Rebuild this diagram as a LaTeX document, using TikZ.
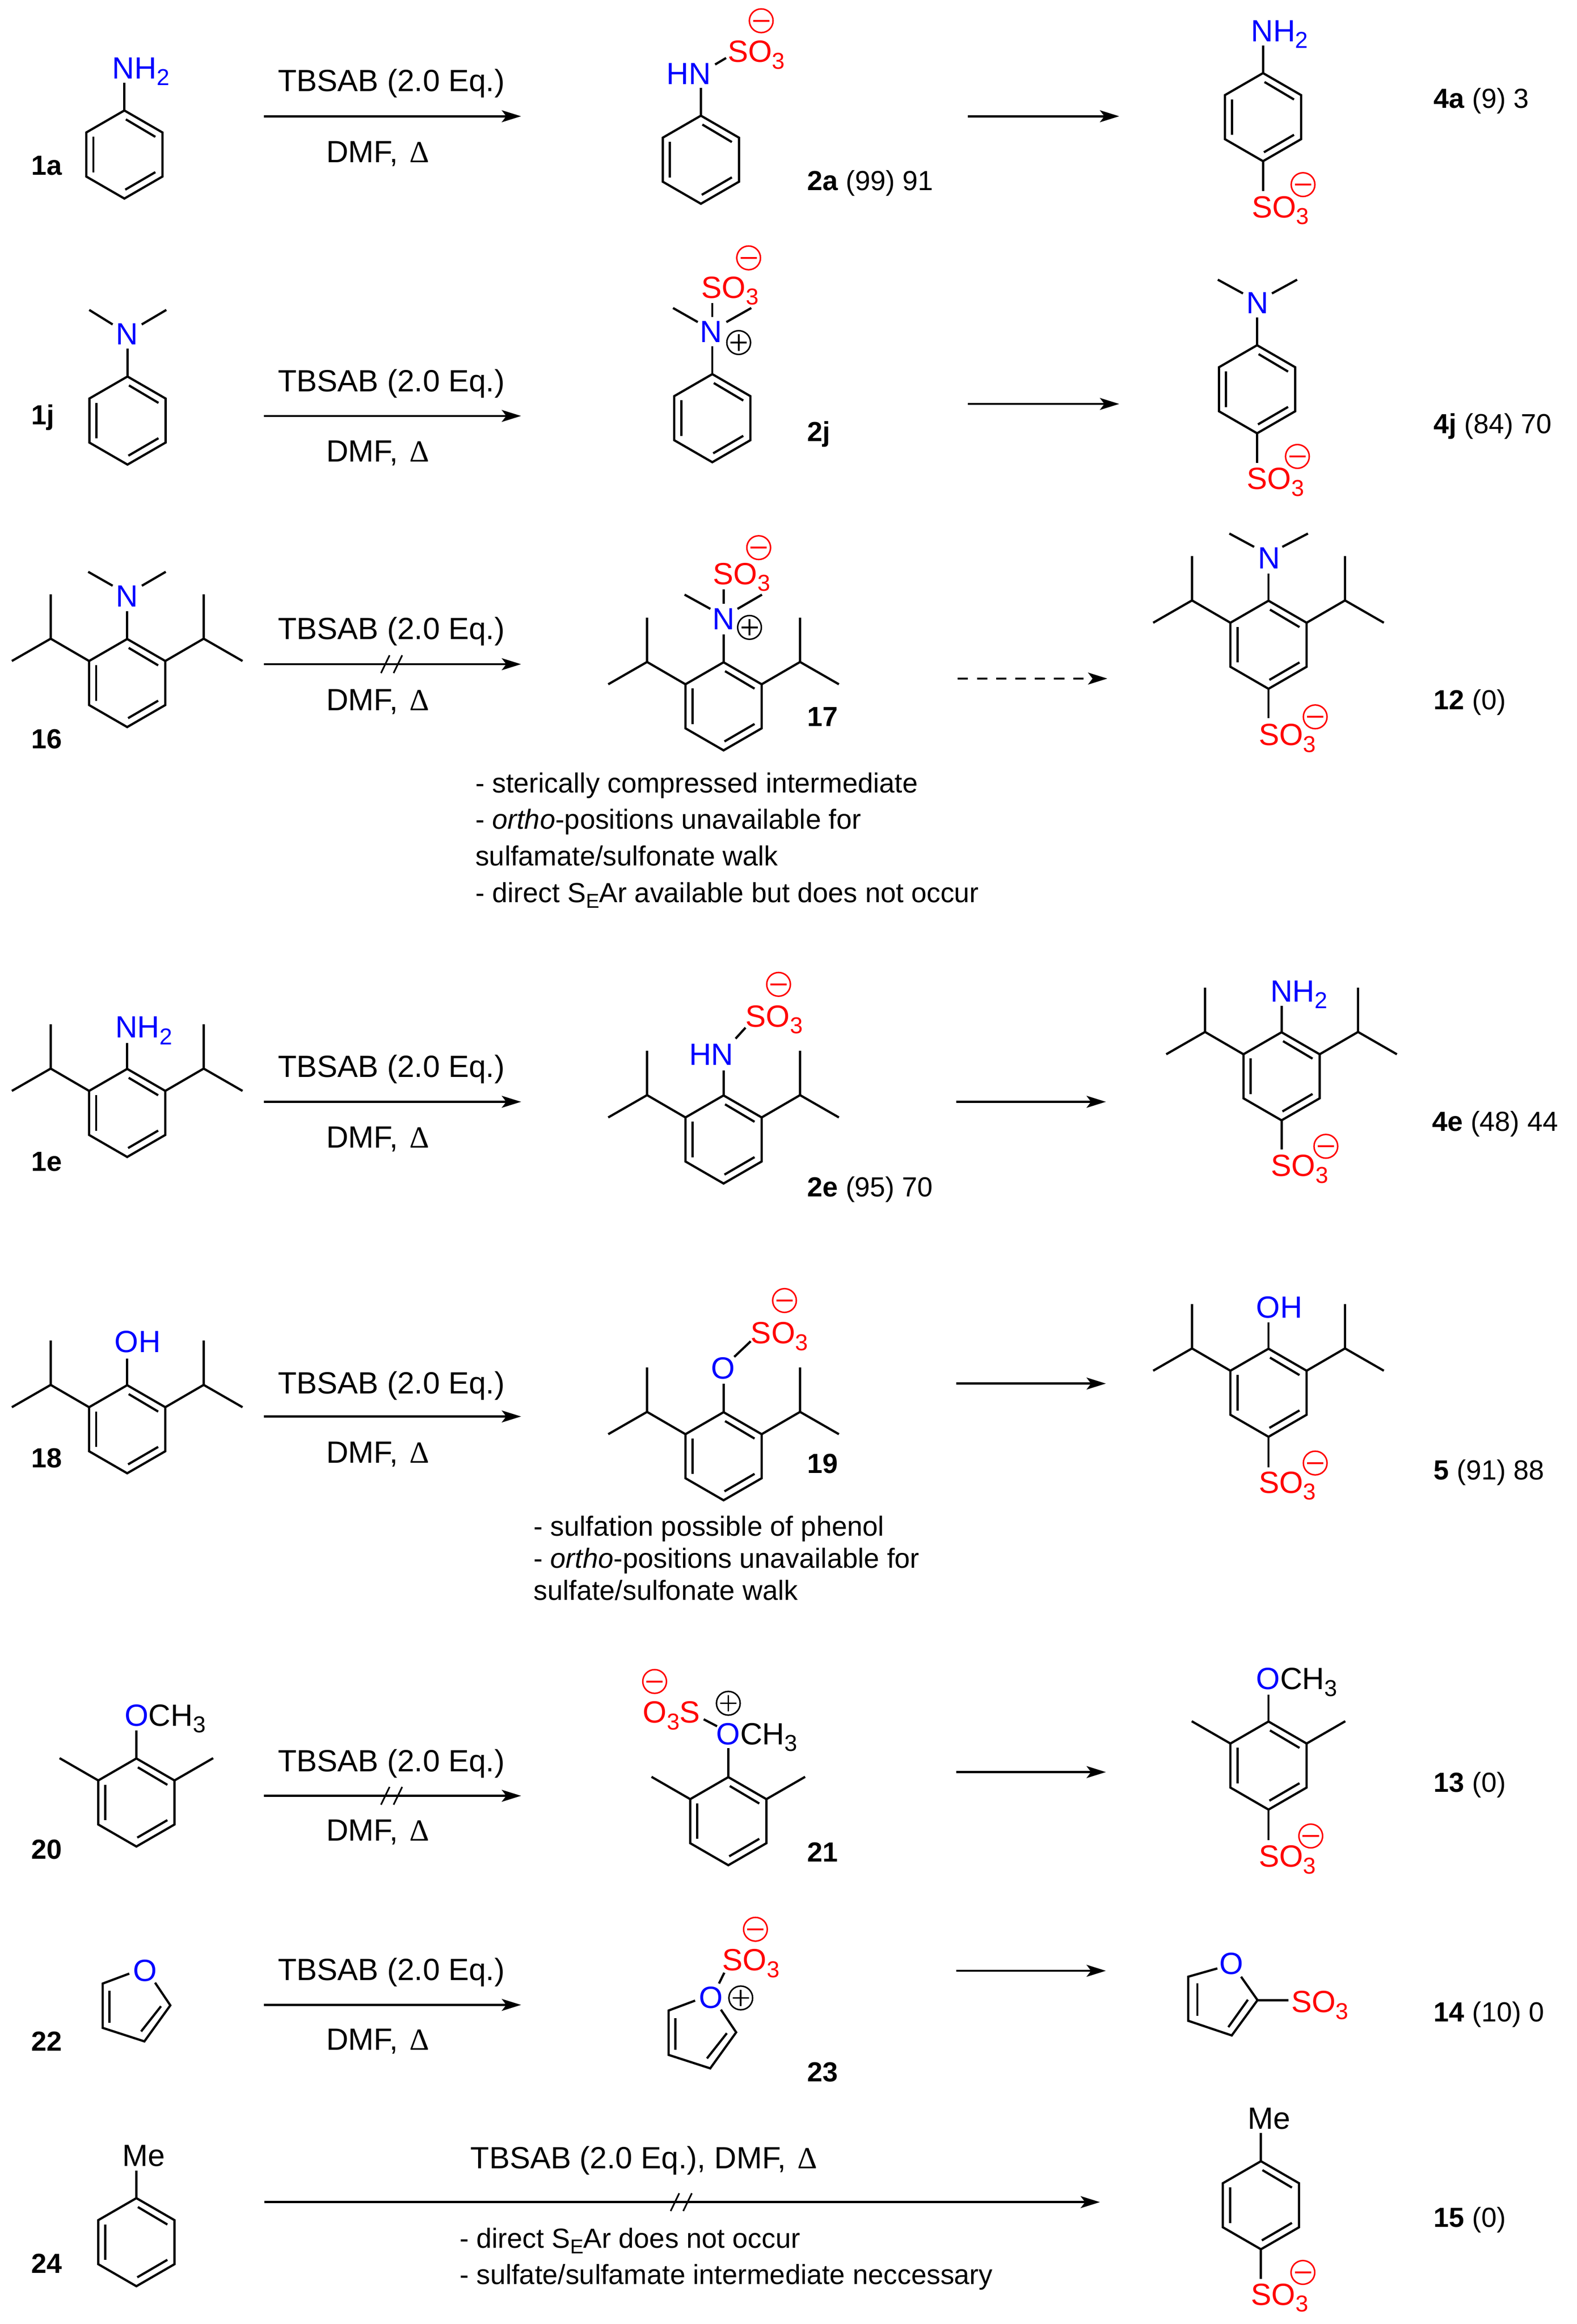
\documentclass[tikz,border=0pt]{standalone}
\usepackage{fontspec}
\setmainfont{Liberation Sans}
\newfontfamily\deltafont{Liberation Serif}
\usetikzlibrary{arrows.meta}

\newcommand{\atomfont}{\fontsize{20.7}{24.8}\selectfont}
\newcommand{\labelfont}{\fontsize{18.6}{22.3}\selectfont}
\newcommand{\notefont}{\fontsize{18.65}{22.4}\selectfont}
\newcommand{\lowidx}[1]{\raisebox{-4.6pt}{\fontsize{15.5}{15.5}\selectfont #1}}
\newcommand{\notesub}[1]{\raisebox{-4pt}{\fontsize{13.5}{13.5}\selectfont #1}}

\tikzset{
  bond/.style={line width=1.5pt,line cap=butt,line join=miter},
  rxn/.style={line width=1.5pt,-{Stealth[length=13pt,width=8pt,inset=3pt]}},
  slash/.style={line width=1.1pt},
  atomtxt/.style={anchor=base west,inner sep=0pt,font=\atomfont},
  nitro/.style={atomtxt,text=blue},
  sulfo/.style={atomtxt,text=red},
  reagent/.style={anchor=base,inner sep=0pt,font=\atomfont},
  cpdlabel/.style={anchor=base west,inner sep=0pt,font=\labelfont},
  notetxt/.style={anchor=base west,inner sep=0pt,font=\notefont},
  chgminus/.style={circle,draw=red,line width=1pt,minimum size=16pt,inner sep=0pt,
    path picture={\draw[red,line width=1.2pt] ([xshift=-5.5pt]path picture bounding box.center) -- ([xshift=5.5pt]path picture bounding box.center);}},
  chgplus/.style={circle,draw=black,line width=1pt,minimum size=16pt,inner sep=0pt,
    path picture={\draw[line width=1.2pt] ([xshift=-5.5pt]path picture bounding box.center) -- ([xshift=5.5pt]path picture bounding box.center);
      \draw[line width=1.2pt] ([yshift=-5.5pt]path picture bounding box.center) -- ([yshift=5.5pt]path picture bounding box.center);}}
}

% benzene ring: name, x, y of the centre
\newcommand{\benzring}[3]{
  \begin{scope}[shift={(#2,#3)}]
    \coordinate (#1-t) at (0,-29.7);
    \coordinate (#1-b) at (0,29.7);
    \coordinate (#1-ul) at (-25.7,-14.85);
    \coordinate (#1-ur) at (25.7,-14.85);
    \draw[bond] (#1-t) -- (#1-ur) -- (25.7,14.85) -- (#1-b) -- (-25.7,14.85) -- (#1-ul) -- cycle;
    \draw[bond] (1,-23.7) -- (20.9,-11.9);
    \draw[bond] (-20.9,-12) -- (-20.9,12);
    \draw[bond] (0.6,23.7) -- (20.9,11.9);
  \end{scope}
}
% the same ring with two isopropyl groups
\newcommand{\iprring}[3]{
  \benzring{#1}{#2}{#3}
  \begin{scope}[shift={(#2,#3)}]
    \draw[bond] (#1-ul) -- (-51.6,-29.9) -- (-51.6,-59.8);
    \draw[bond] (-51.6,-29.9) -- (-77.8,-14.85);
    \draw[bond] (#1-ur) -- (51.6,-29.9) -- (51.6,-59.8);
    \draw[bond] (51.6,-29.9) -- (77.8,-14.85);
  \end{scope}
}
% ring with two methyl groups
\newcommand{\xylring}[3]{
  \benzring{#1}{#2}{#3}
  \begin{scope}[shift={(#2,#3)}]
    \draw[bond] (#1-ul) -- (-51.8,-29.9);
    \draw[bond] (#1-ur) -- (51.8,-29.9);
  \end{scope}
}
% furan with O on top: name, shift x, shift y
\newcommand{\furanring}[3]{
  \begin{scope}[shift={(#2,#3)}]
    \draw[bond] (87.2,1330.9) -- (69.3,1337.6) -- (69.3,1367.5) -- (97.4,1376.6) -- (114.9,1352.3) -- (104.6,1337);
    \draw[bond] (73.8,1342.6) -- (73.8,1364);
    \draw[bond] (95.2,1369.9) -- (108.6,1352.9);
    \node[nitro] (#1O) at (89.7,1336) {O};
  \end{scope}
}
% arrow with both lines of conditions
\newcommand{\reagents}[4]{
  \coordinate (#1s) at (178,#2);
  \coordinate (#1e) at (351.5,#2);
  \draw[rxn] (#1s) -- (#1e);
  \node[reagent] (#1top) at (264,#3) {TBSAB (2.0 Eq.)};
  \node[reagent] (#1bot) at (254.8,#4) {DMF,\hspace{2pt} {\deltafont Δ}};
}
% plain arrow to the product
\newcommand{\onward}[4]{
  \coordinate (#1s) at (#2,#4);
  \coordinate (#1e) at (#3,#4);
  \draw[rxn] (#1s) -- (#1e);
}
% the two strokes through a blocked arrow
\newcommand{\blocked}[2]{
  \begin{scope}[shift={(#1,#2)}]
    \draw[slash] (-1.3,-6) -- (-7.1,6);
    \draw[slash] (7.2,-6) -- (1.4,6);
  \end{scope}
}

\begin{document}
\begin{tikzpicture}[x=1pt,y=-1pt]
    \useasboundingbox (0,0) rectangle (1063.5,1567.2);

    % 1. Aniline
    \benzring{ra}{83.9}{104.2}
    \draw[bond] (ra-t) -- ++(0,-18.6);
    \node[nitro] (nha) at (75.6,53) {NH\lowidx{2}};
    \node[cpdlabel] (laba) at (21,118) {\textbf{1a}};
    \reagents{ta}{78.4}{61.7}{109.4}
    \benzring{rb}{472.8}{107.7}
    \draw[bond] (rb-t) -- ++(0,-18.6);
    \node[nitro] (nhb) at (449.5,57) {HN};
    \draw[bond] (482.4,43.5) -- (489.8,39.1);
    \node[sulfo] (sob) at (490.8,41.9) {SO\lowidx{3}};
    \node[chgminus] (mb) at (513.5,14) {};
    \node[cpdlabel] (labb) at (544.5,128.5) {\textbf{2a} (99) 91};
    \onward{oa}{653}{755}{78.4}
    \benzring{rc}{852}{79}
    \draw[bond] (rc-t) -- ++(0,-18.6);
    \draw[bond] (rc-b) -- ++(0,20);
    \node[nitro] (nhc) at (843.7,28) {NH\lowidx{2}};
    \node[sulfo] (soc) at (844.3,146.7) {SO\lowidx{3}};
    \node[chgminus] (mc) at (879,124.5) {};
    \node[cpdlabel] (labc) at (967,73) {\textbf{4a} (9) 3};

    % 2. N,N-dimethylaniline
    \benzring{rd}{86}{283.6}
    \draw[bond] (rd-t) -- ++(0,-18.8);
    \draw[bond] (76,218.8) -- (60.2,209);
    \draw[bond] (95.6,218.8) -- (112.2,209);
    \node[nitro] (nd) at (78,232.3) {N};
    \node[cpdlabel] (labd) at (21,286.3) {\textbf{1j}};
    \reagents{tb}{280.5}{264.2}{311.5}
    \benzring{re}{480.5}{282}
    \draw[bond] (re-t) -- ++(0,-18.8);
    \draw[bond] (480.5,204.4) -- (480.5,213.7);
    \draw[bond] (470.7,217.2) -- (454,207.7);
    \draw[bond] (490,217.2) -- (506.8,207.7);
    \node[nitro] (ne) at (472,231) {N};
    \node[sulfo] (soe) at (473,201) {SO\lowidx{3}};
    \node[chgminus] (me) at (505,173.9) {};
    \node[chgplus] (pe) at (498.3,231) {};
    \node[cpdlabel] (labe) at (544.5,297.5) {\textbf{2j}};
    \onward{ob}{653}{755}{272.4}
    \benzring{rf}{848}{262.5}
    \draw[bond] (rf-t) -- ++(0,-18.8);
    \draw[bond] (rf-b) -- ++(0,20);
    \draw[bond] (838.5,197.9) -- (821.5,188.6);
    \draw[bond] (858,197.9) -- (875,188.6);
    \node[nitro] (nf) at (840.5,211.4) {N};
    \node[sulfo] (sof) at (841,330) {SO\lowidx{3}};
    \node[chgminus] (mf) at (875.2,307.8) {};
    \node[cpdlabel] (labf) at (967,292.2) {\textbf{4j} (84) 70};

    % 3. Hindered dimethylaniline
    \iprring{rg}{85.8}{460.6}
    \draw[bond] (rg-t) -- ++(0,-18.8);
    \draw[bond] (76,395) -- (59.5,385.6);
    \draw[bond] (95.7,395) -- (111.8,385.6);
    \node[nitro] (ng) at (78.1,409.3) {N};
    \node[cpdlabel] (labg) at (21,504.9) {\textbf{16}};
    \reagents{tc}{447.9}{431}{479}
    \blocked{264.1}{447.9}
    \iprring{rh}{488.1}{476.3}
    \draw[bond] (rh-t) -- ++(0,-18.8);
    \draw[bond] (488.1,397.4) -- (488.1,407.2);
    \draw[bond] (479.2,410.6) -- (461.8,401);
    \draw[bond] (497.5,410.6) -- (514,401);
    \node[nitro] (nh) at (480.4,424.6) {N};
    \node[sulfo] (soh) at (480.9,394) {SO\lowidx{3}};
    \node[chgminus] (mh) at (511.8,369.3) {};
    \node[chgplus] (ph) at (505.6,423.1) {};
    \node[cpdlabel] (labh) at (544.4,489.7) {\textbf{17}};
    \node[notetxt] (nta) at (320.5,534.7) {- sterically compressed intermediate};
    \node[notetxt] (ntb) at (320.5,559) {- \textit{ortho}-positions unavailable for};
    \node[notetxt] (ntc) at (320.5,583.8) {sulfamate/sulfonate walk};
    \node[notetxt] (ntd) at (320.5,608.4) {- direct S\notesub{E}Ar available but does not occur};
    \coordinate (ocs) at (646,457.6);
    \coordinate (oce) at (747,457.6);
    \draw[rxn,dash pattern=on 7pt off 6pt] (ocs) -- (oce);
    \iprring{ri}{855.7}{434.8}
    \draw[bond] (ri-t) -- ++(0,-18.4);
    \draw[bond] (ri-b) -- ++(0,19.8);
    \draw[bond] (846,368.8) -- (829.3,359.8);
    \draw[bond] (865,368.8) -- (882.3,359.8);
    \node[nitro] (ni) at (848.4,383.6) {N};
    \node[sulfo] (soi) at (848.9,502.7) {SO\lowidx{3}};
    \node[chgminus] (mi) at (887.2,483.4) {};
    \node[cpdlabel] (labi) at (967,478.5) {\textbf{12} (0)};

    % 4. 2,6-diisopropylaniline
    \iprring{rj}{85.8}{750.5}
    \draw[bond] (rj-t) -- ++(0,-17.3);
    \node[nitro] (nhj) at (77.6,699.8) {NH\lowidx{2}};
    \node[cpdlabel] (labj) at (21,789.8) {\textbf{1e}};
    \reagents{td}{743}{726.3}{774}
    \iprring{rk}{488.1}{768.4}
    \draw[bond] (rk-t) -- ++(0,-16.8);
    \draw[bond] (496.2,700.4) -- (502.9,693);
    \node[nitro] (nhk) at (464.7,718.3) {HN};
    \node[sulfo] (sok) at (502.8,692.4) {SO\lowidx{3}};
    \node[chgminus] (mk) at (525.2,663.8) {};
    \node[cpdlabel] (labk) at (544.4,806.8) {\textbf{2e} (95) 70};
    \onward{od}{645}{746}{743}
    \iprring{rl}{864.5}{725.8}
    \draw[bond] (rl-t) -- ++(0,-17.8);
    \draw[bond] (rl-b) -- ++(0,19.7);
    \node[nitro] (nhl) at (856.8,675.5) {NH\lowidx{2}};
    \node[sulfo] (sol) at (857.3,793.2) {SO\lowidx{3}};
    \node[chgminus] (ml) at (894.4,773) {};
    \node[cpdlabel] (labl) at (966,762.8) {\textbf{4e} (48) 44};

    % 5. 2,6-diisopropylphenol
    \iprring{rm}{85.8}{963.8}
    \draw[bond] (rm-t) -- ++(0,-17.8);
    \node[nitro] (ohm) at (77.2,912) {OH};
    \node[cpdlabel] (labm) at (21,989.8) {\textbf{18}};
    \reagents{te}{955.2}{939.7}{986.5}
    \iprring{rn}{488.1}{982}
    \draw[bond] (rn-t) -- ++(0,-19.3);
    \draw[bond] (495.3,915) -- (506.4,904.5);
    \node[nitro] (on) at (479.5,929.9) {O};
    \node[sulfo] (son) at (506.3,906) {SO\lowidx{3}};
    \node[chgminus] (mn) at (529.2,877) {};
    \node[cpdlabel] (labn) at (544.4,993.4) {\textbf{19}};
    \node[notetxt] (nte) at (359.8,1035.7) {- sulfation possible of phenol};
    \node[notetxt] (ntf) at (359.8,1057.4) {- \textit{ortho}-positions unavailable for};
    \node[notetxt] (ntg) at (359.8,1078.9) {sulfate/sulfonate walk};
    \onward{oe}{645}{746}{933}
    \iprring{ro}{855.7}{939.2}
    \draw[bond] (ro-t) -- ++(0,-17.9);
    \draw[bond] (ro-b) -- ++(0,20.6);
    \node[nitro] (oho) at (847.3,888.6) {OH};
    \node[sulfo] (soo) at (848.9,1006.8) {SO\lowidx{3}};
    \node[chgminus] (mo) at (887.2,986.6) {};
    \node[cpdlabel] (labo) at (967,997.8) {\textbf{5} (91) 88};

    % 6. 2,6-dimethylanisole
    \xylring{rp}{92}{1215.5}
    \draw[bond] (rp-t) -- ++(0,-18.8);
    \node[atomtxt] (op) at (83.9,1163.8) {\textcolor{blue}{O}CH\lowidx{3}};
    \node[cpdlabel] (labp) at (21,1253.5) {\textbf{20}};
    \reagents{tf}{1211}{1194.6}{1241.5}
    \blocked{264.1}{1211}
    \xylring{rq}{491.3}{1228.1}
    \draw[bond] (rq-t) -- ++(0,-19.6);
    \draw[bond] (474.7,1159.4) -- (483.7,1164.1);
    \node[atomtxt] (oq) at (483.1,1176.4) {\textcolor{blue}{O}CH\lowidx{3}};
    \node[sulfo] (soq) at (433.5,1161.8) {O\lowidx{3}S};
    \node[chgminus] (mq) at (441.6,1133.9) {};
    \node[chgplus] (pq) at (491.3,1148.6) {};
    \node[cpdlabel] (labq) at (544.4,1255.6) {\textbf{21}};
    \onward{of}{645}{746}{1195}
    \xylring{rr}{855.7}{1190.6}
    \draw[bond] (rr-t) -- ++(0,-18.1);
    \draw[bond] (rr-b) -- ++(0,20.5);
    \node[atomtxt] (or) at (847.3,1139.3) {\textcolor{blue}{O}CH\lowidx{3}};
    \node[sulfo] (sor) at (848.9,1258.9) {SO\lowidx{3}};
    \node[chgminus] (mr) at (884.2,1238.1) {};
    \node[cpdlabel] (labr) at (967,1208.5) {\textbf{13} (0)};

    % 7. Furan
    \furanring{fs}{0}{0}
    \node[cpdlabel] (labs) at (21,1383) {\textbf{22}};
    \reagents{tg}{1352}{1335.3}{1382.5}
    \furanring{ft}{381.7}{18.2}
    \draw[bond] (485,1337.6) -- (488.6,1330.3);
    \node[sulfo] (sot) at (487.1,1328.8) {SO\lowidx{3}};
    \node[chgminus] (mt) at (509.6,1301) {};
    \node[chgplus] (pt) at (499.7,1347.3) {};
    \node[cpdlabel] (labt) at (544.4,1403.6) {\textbf{23}};
    \onward{og}{645}{746}{1329}
    \draw[bond] (821.2,1327.4) -- (801.5,1333) -- (801.5,1362.7) -- (830.9,1372.6) -- (848.3,1348.8) -- (837.2,1333);
    \draw[bond] (807.7,1337.3) -- (807.7,1359.4);
    \draw[bond] (828.6,1367) -- (841.8,1348.5);
    \draw[bond] (848.3,1348.8) -- (869.1,1348.8);
    \node[nitro] (ou) at (822.5,1331.4) {O};
    \node[sulfo] (sou) at (870.9,1357) {SO\lowidx{3}};
    \node[cpdlabel] (labu) at (967,1363.3) {\textbf{14} (10) 0};

    % 8. Toluene
    \benzring{rv}{92}{1512}
    \draw[bond] (rv-t) -- ++(0,-18.4);
    \node[atomtxt] (mev) at (82.5,1460.7) {Me};
    \node[cpdlabel] (labv) at (21,1533) {\textbf{24}};
    \coordinate (ths) at (178.5,1485);
    \coordinate (the) at (742,1485);
    \draw[rxn] (ths) -- (the);
    \blocked{459.5}{1485}
    \node[atomtxt] (tht) at (317.2,1462.2) {TBSAB (2.0 Eq.), DMF,\hspace{2pt} {\deltafont Δ}};
    \node[notetxt] (nth) at (309.8,1515.8) {- direct S\notesub{E}Ar does not occur};
    \node[notetxt] (nti) at (309.8,1540.4) {- sulfate/sulfamate intermediate neccessary};
    \benzring{rw}{850.6}{1487.1}
    \draw[bond] (rw-t) -- ++(0,-19.1);
    \draw[bond] (rw-b) -- ++(0,20);
    \node[atomtxt] (mew) at (841.5,1435.8) {Me};
    \node[sulfo] (sow) at (843.8,1554.4) {SO\lowidx{3}};
    \node[chgminus] (mw) at (878.9,1532.4) {};
    \node[cpdlabel] (labw) at (967,1501.7) {\textbf{15} (0)};

\end{tikzpicture}
\end{document}
